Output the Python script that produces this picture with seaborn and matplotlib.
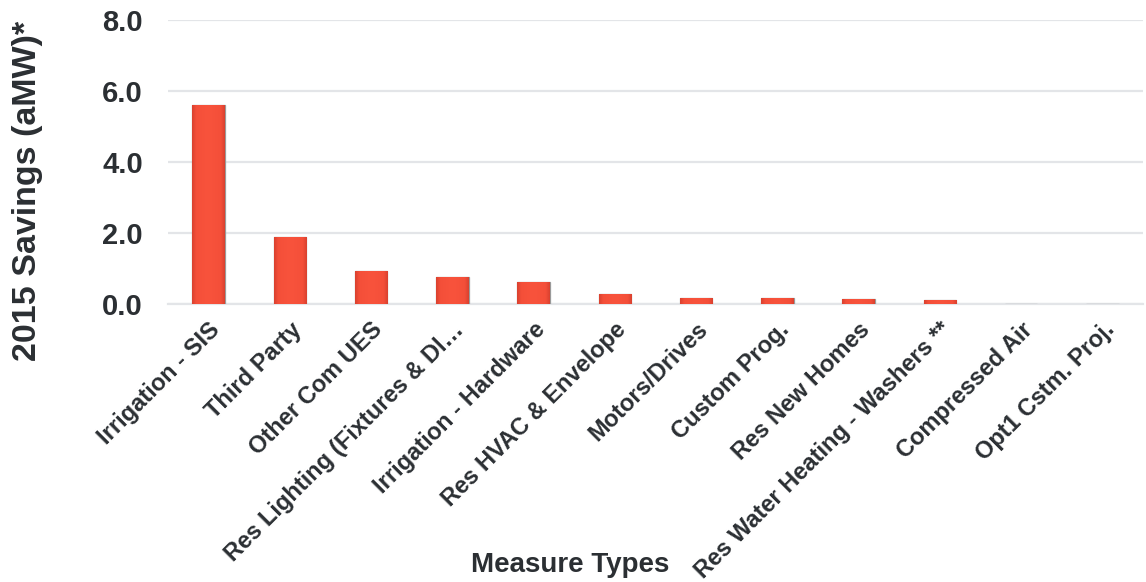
import numpy as np
import pandas as pd
import matplotlib
matplotlib.use("Agg")
import matplotlib.pyplot as plt
from matplotlib.colors import LinearSegmentedColormap
import seaborn as sns

categories = [
    "Irrigation - SIS",
    "Third Party",
    "Other Com UES",
    "Res Lighting (Fixtures & Dl\u2026",
    "Irrigation - Hardware",
    "Res HVAC & Envelope",
    "Motors/Drives",
    "Custom Prog.",
    "Res New Homes",
    "Res Water Heating - Washers **",
    "Compressed Air",
    "Opt1 Cstm. Proj.",
]
savings = [5.62, 1.89, 0.93, 0.75, 0.61, 0.27, 0.18, 0.16, 0.13, 0.10, 0.01, 0.005]
y_ticks = [0.0, 2.0, 4.0, 6.0, 8.0]

sns.set_style("white")
plt.rcParams["font.family"] = ["Liberation Sans", "DejaVu Sans"]
plt.rcParams["font.weight"] = "bold"

text_color = "#2b2f33"
grid_color = "#e3e5e8"
bar_color = "#f44f39"

df = pd.DataFrame({"measure": categories, "savings": savings})

fig = plt.figure(figsize=(11.46, 5.82), dpi=100)
ax = fig.add_axes([0.1466, 0.4777, 0.8508, 0.4871])

sns.barplot(data=df, x="measure", y="savings", color=bar_color,
            saturation=1, width=0.4, edgecolor="#9a9a9a", linewidth=0.9,
            ax=ax, zorder=3)

ax.set_ylim(0, 8)

# soft bevel shading across each bar, clipped to the bar shape
shade = LinearSegmentedColormap.from_list(
    "bevel", [(0.0, "#d9412f"), (0.12, "#f44f39"), (0.5, "#f8533c"),
              (0.88, "#f44f39"), (1.0, "#d9412f")])
profile = np.linspace(0, 1, 64).reshape(1, -1)
for patch in ax.patches:
    x0, y0 = patch.get_x(), patch.get_y()
    w, h = patch.get_width(), patch.get_height()
    if h <= 0:
        continue
    img = ax.imshow(profile, cmap=shade, aspect="auto",
                    extent=(x0, x0 + w, y0, y0 + h), zorder=3.5,
                    interpolation="bicubic")
    img.set_clip_path(patch)
ax.set_xlim(-0.5, len(categories) - 0.5)
ax.set_ylim(0, 8)

ax.set_yticks(y_ticks)
ax.set_yticklabels([f"{v:.1f}" for v in y_ticks], fontsize=21,
                   fontweight="bold", color=text_color)
ax.tick_params(axis="y", length=0, pad=18)
ax.grid(axis="y", color=grid_color, linewidth=1.6, zorder=0)
ax.set_axisbelow(True)

ax.set_xticks(range(len(categories)))
ax.set_xticklabels(categories, rotation=45, ha="right", va="top",
                   rotation_mode="anchor", fontsize=17, fontweight="bold",
                   color=text_color)
ax.tick_params(axis="x", which="major", length=0, pad=10)
ax.set_xticks(np.arange(-0.5, len(categories) + 0.5, 1), minor=True)
ax.tick_params(axis="x", which="minor", length=7, width=1.6,
               color=grid_color, direction="out")

for side in ["top", "right", "left"]:
    ax.spines[side].set_visible(False)
ax.spines["bottom"].set_color(grid_color)
ax.spines["bottom"].set_linewidth(1.6)

ax.set_xlabel("Measure Types", fontsize=20, fontweight="bold", color=text_color)
ax.xaxis.set_label_coords(0.412, -0.875)
ax.set_ylabel("2015 Savings (aMW)*", fontsize=24.5, fontweight="bold",
              color=text_color)
ax.yaxis.set_label_coords(-0.128, 0.4)

fig.savefig("out.png", dpi=100, facecolor="white")
